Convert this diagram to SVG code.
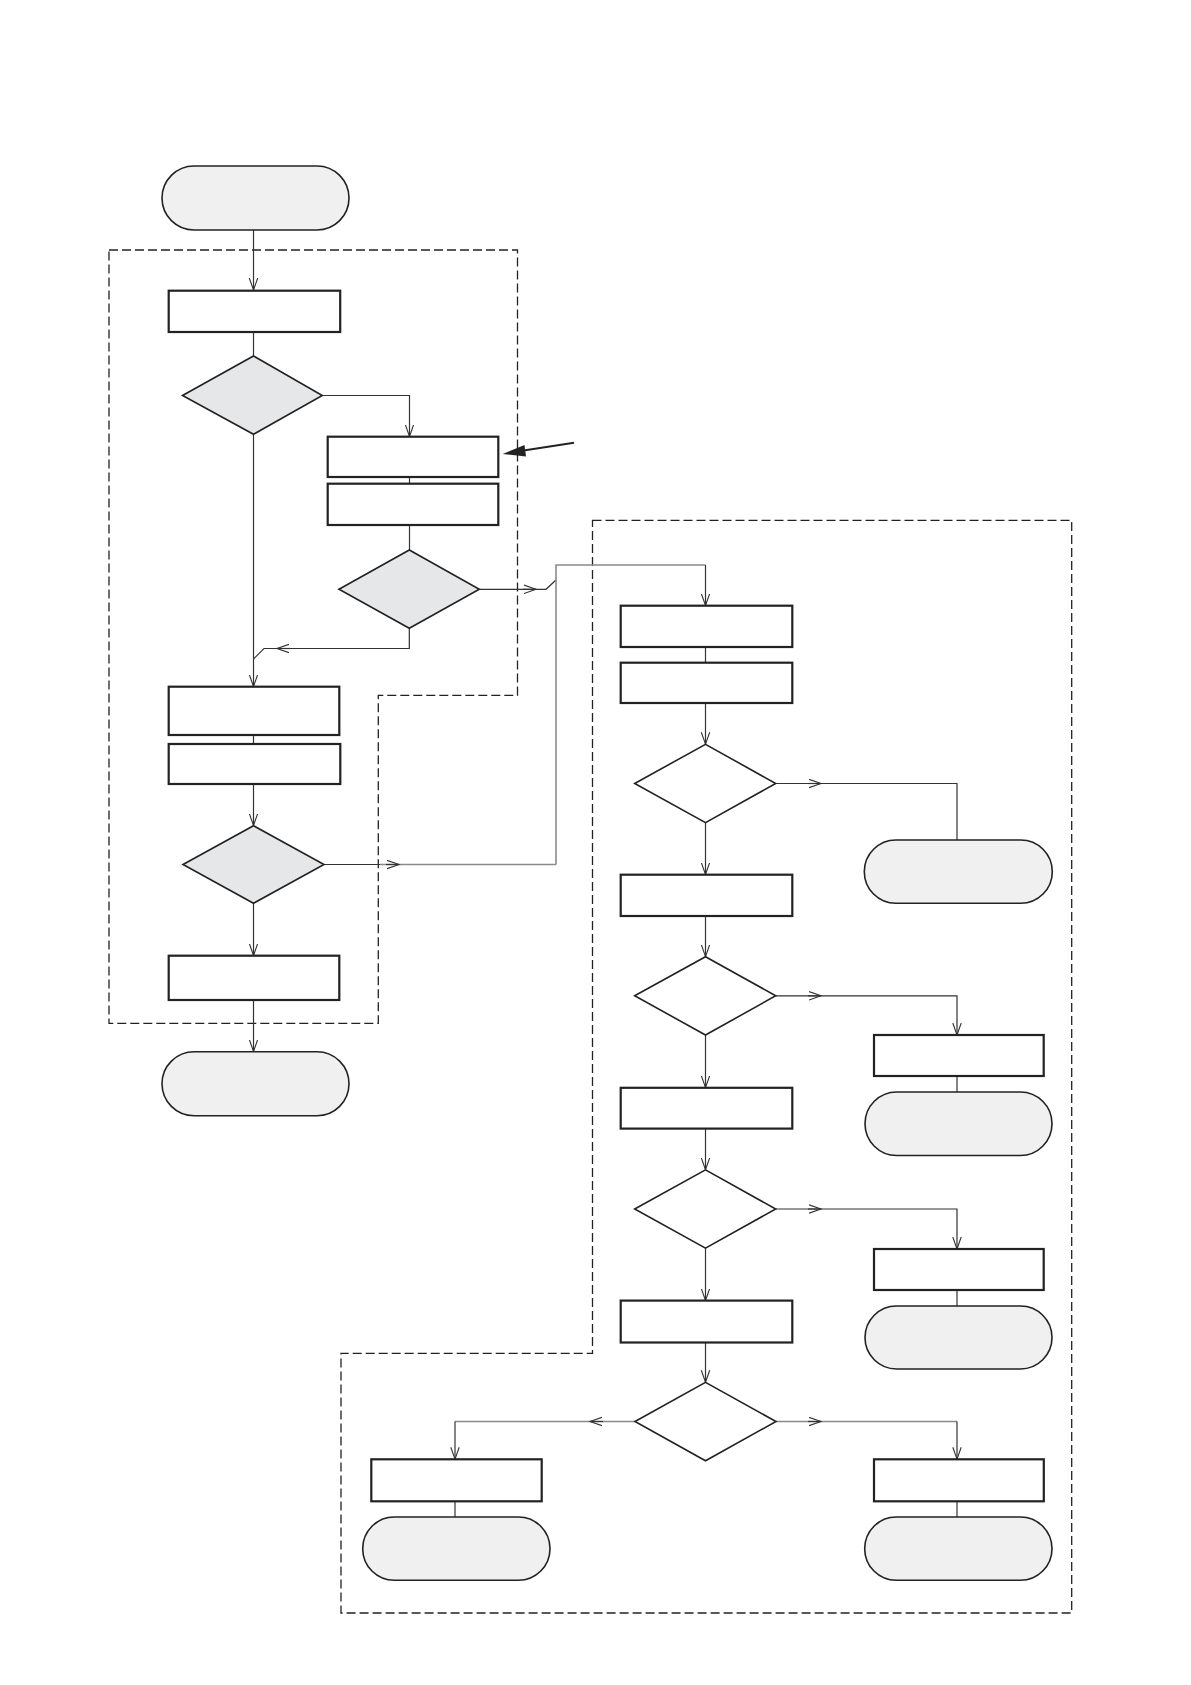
<svg xmlns="http://www.w3.org/2000/svg" width="1191" height="1685" viewBox="0 0 1191 1685">
<style>
.rect{fill:#fff;stroke:#222;stroke-width:2.2}
.dia{fill:#fff;stroke:#222;stroke-width:1.6}
.dia.g{fill:#e6e7e8}
.term{fill:#f0f0f0;stroke:#222;stroke-width:1.6}
.con{fill:none;stroke:#333;stroke-width:1.2}
.gray{fill:none;stroke:#8a8a8a;stroke-width:1.6}
.dash{fill:none;stroke:#222;stroke-width:1.3;stroke-dasharray:9,4}
</style>
<defs>
<marker id="a" markerUnits="userSpaceOnUse" markerWidth="14" markerHeight="11" refX="12" refY="5" orient="auto">
<path d="M0,0.8 L12,5 L0,9.2" fill="none" stroke="#333" stroke-width="1.1"/>
</marker>
</defs>
<rect width="1191" height="1685" fill="#fff"/>
<g id="groups">
<path class="dash" d="M109,250 H517.5 V695.3 H378.3 V1023.3 H109 Z"/>
<path class="dash" d="M592.5,520.3 H1071.7 V1613 H341 V1353.3 H592.5 Z"/>
</g>
<g id="connectors">
<path class="con" d="M253.5,230 V290" marker-end="url(#a)"/>
<path class="con" d="M253.5,332 V356"/>
<path class="con" d="M322.3,395.5 H409.5 V436.5" marker-end="url(#a)"/>
<path class="con" d="M409.5,477 V483.7"/>
<path class="con" d="M409.5,525 V550"/>
<path class="con" d="M253.5,434.3 V686.5" marker-end="url(#a)"/>
<path class="con" d="M409.3,628.3 V648.5 H264 L253.5,659"/>
<path class="con" d="M290,648.5 H277" marker-end="url(#a)"/>
<path class="con" d="M479.3,589.3 H546 L556,580"/>
<path class="con" d="M523,589.3 H536" marker-end="url(#a)"/>
<path class="gray" d="M556,864.5 V565 H705.5"/>
<path class="con" d="M705.5,565 V605.5" marker-end="url(#a)"/>
<path class="con" d="M253.5,735 V744"/>
<path class="con" d="M253.5,784 V825.5" marker-end="url(#a)"/>
<path class="con" d="M324,864.5 H380"/>
<path class="gray" d="M380,864.5 H556"/>
<path class="con" d="M386,864.5 H399" marker-end="url(#a)"/>
<path class="con" d="M253.5,903.3 V955.5" marker-end="url(#a)"/>
<path class="con" d="M253.5,1000 V1051.5" marker-end="url(#a)"/>
<path class="con" d="M705.5,647 V662.7"/>
<path class="con" d="M705.5,703 V744.2" marker-end="url(#a)"/>
<path class="con" d="M776,783.5 H957 V840"/>
<path class="con" d="M808,783.5 H821" marker-end="url(#a)"/>
<path class="con" d="M705.5,822.7 V874.5" marker-end="url(#a)"/>
<path class="con" d="M705.5,916 V956.6" marker-end="url(#a)"/>
<path class="con" d="M776,995.8 H957 V1035" marker-end="url(#a)"/>
<path class="con" d="M808,995.8 H821" marker-end="url(#a)"/>
<path class="con" d="M957,1076 V1092"/>
<path class="con" d="M705.5,1034.8 V1087.6" marker-end="url(#a)"/>
<path class="con" d="M705.5,1128.6 V1169.8" marker-end="url(#a)"/>
<path class="con" d="M776,1209 H957 V1249" marker-end="url(#a)"/>
<path class="con" d="M808,1209 H821" marker-end="url(#a)"/>
<path class="con" d="M957,1290 V1306"/>
<path class="con" d="M705.5,1248 V1300.5" marker-end="url(#a)"/>
<path class="con" d="M705.5,1342.5 V1382.3" marker-end="url(#a)"/>
<path class="gray" d="M776,1421.5 H957"/>
<path class="con" d="M957,1421.5 V1459.2" marker-end="url(#a)"/>
<path class="con" d="M808,1421.5 H821" marker-end="url(#a)"/>
<path class="gray" d="M635,1421.5 H455"/>
<path class="con" d="M455,1421.5 V1459.2" marker-end="url(#a)"/>
<path class="con" d="M603,1421.5 H590" marker-end="url(#a)"/>
<path class="con" d="M957,1501.3 V1517"/>
<path class="con" d="M455,1501.3 V1517"/>
<path d="M574,442.7 L522,450.7" fill="none" stroke="#222" stroke-width="2"/>
<path d="M502.7,454 L524.5,445 L526,456.5 Z" fill="#222"/>
</g>
<g id="start"><rect class="term" x="162" y="166" width="187" height="64" rx="32"/></g>
<g id="r1"><rect class="rect" x="168.7" y="290.7" width="171.5" height="41.3"/></g>
<g id="d1"><path class="dia g" d="M182.5,395.5 L253.5,356 L322.3,395.5 L253.5,434.3 Z"/></g>
<g id="r2"><rect class="rect" x="327.7" y="436.7" width="170.6" height="40.3"/></g>
<g id="r3"><rect class="rect" x="327.7" y="483.7" width="170.6" height="41.3"/></g>
<g id="d2"><path class="dia g" d="M339,589.3 L409.3,550 L479.3,589.3 L409.3,628.3 Z"/></g>
<g id="r4"><rect class="rect" x="168.7" y="686.7" width="170.6" height="48.3"/></g>
<g id="r5"><rect class="rect" x="168.7" y="744" width="171.6" height="40"/></g>
<g id="d3"><path class="dia g" d="M183,864.5 L253.5,825.7 L324,864.5 L253.5,903.3 Z"/></g>
<g id="r6"><rect class="rect" x="168.7" y="955.7" width="170.6" height="44.3"/></g>
<g id="end"><rect class="term" x="162" y="1051.7" width="187" height="64" rx="32"/></g>
<g id="r7"><rect class="rect" x="620.7" y="605.7" width="171.6" height="41.3"/></g>
<g id="r8"><rect class="rect" x="620.7" y="662.7" width="171.6" height="40.3"/></g>
<g id="d4"><path class="dia" d="M634.7,783.5 L705.5,744.3 L775.7,783.5 L705.5,822.7 Z"/></g>
<g id="t1"><rect class="term" x="864.3" y="840" width="188" height="63.3" rx="31.6"/></g>
<g id="r9"><rect class="rect" x="620.7" y="874.7" width="171.6" height="41.3"/></g>
<g id="d5"><path class="dia" d="M634.7,995.8 L705.5,956.7 L775.7,995.8 L705.5,1035 Z"/></g>
<g id="r10"><rect class="rect" x="874" y="1035" width="169.7" height="41"/></g>
<g id="t2"><rect class="term" x="865" y="1092" width="187" height="63.5" rx="31.7"/></g>
<g id="r11"><rect class="rect" x="620.7" y="1087.8" width="171.6" height="40.8"/></g>
<g id="d6"><path class="dia" d="M634.7,1209 L705.5,1169.8 L775.7,1209 L705.5,1248.2 Z"/></g>
<g id="r12"><rect class="rect" x="874" y="1249" width="169.7" height="41"/></g>
<g id="t3"><rect class="term" x="865" y="1306" width="187" height="63" rx="31.5"/></g>
<g id="r13"><rect class="rect" x="620.7" y="1300.6" width="171.6" height="41.9"/></g>
<g id="d7"><path class="dia" d="M635,1421.5 L705.5,1382.3 L776,1421.5 L705.5,1460.8 Z"/></g>
<g id="r14"><rect class="rect" x="371.3" y="1459.3" width="170.4" height="42"/></g>
<g id="t4"><rect class="term" x="362.7" y="1517" width="187.3" height="63.3" rx="31.6"/></g>
<g id="r15"><rect class="rect" x="874" y="1459.3" width="169.8" height="42"/></g>
<g id="t5"><rect class="term" x="864.7" y="1517" width="187.3" height="63.3" rx="31.6"/></g>
</svg>
